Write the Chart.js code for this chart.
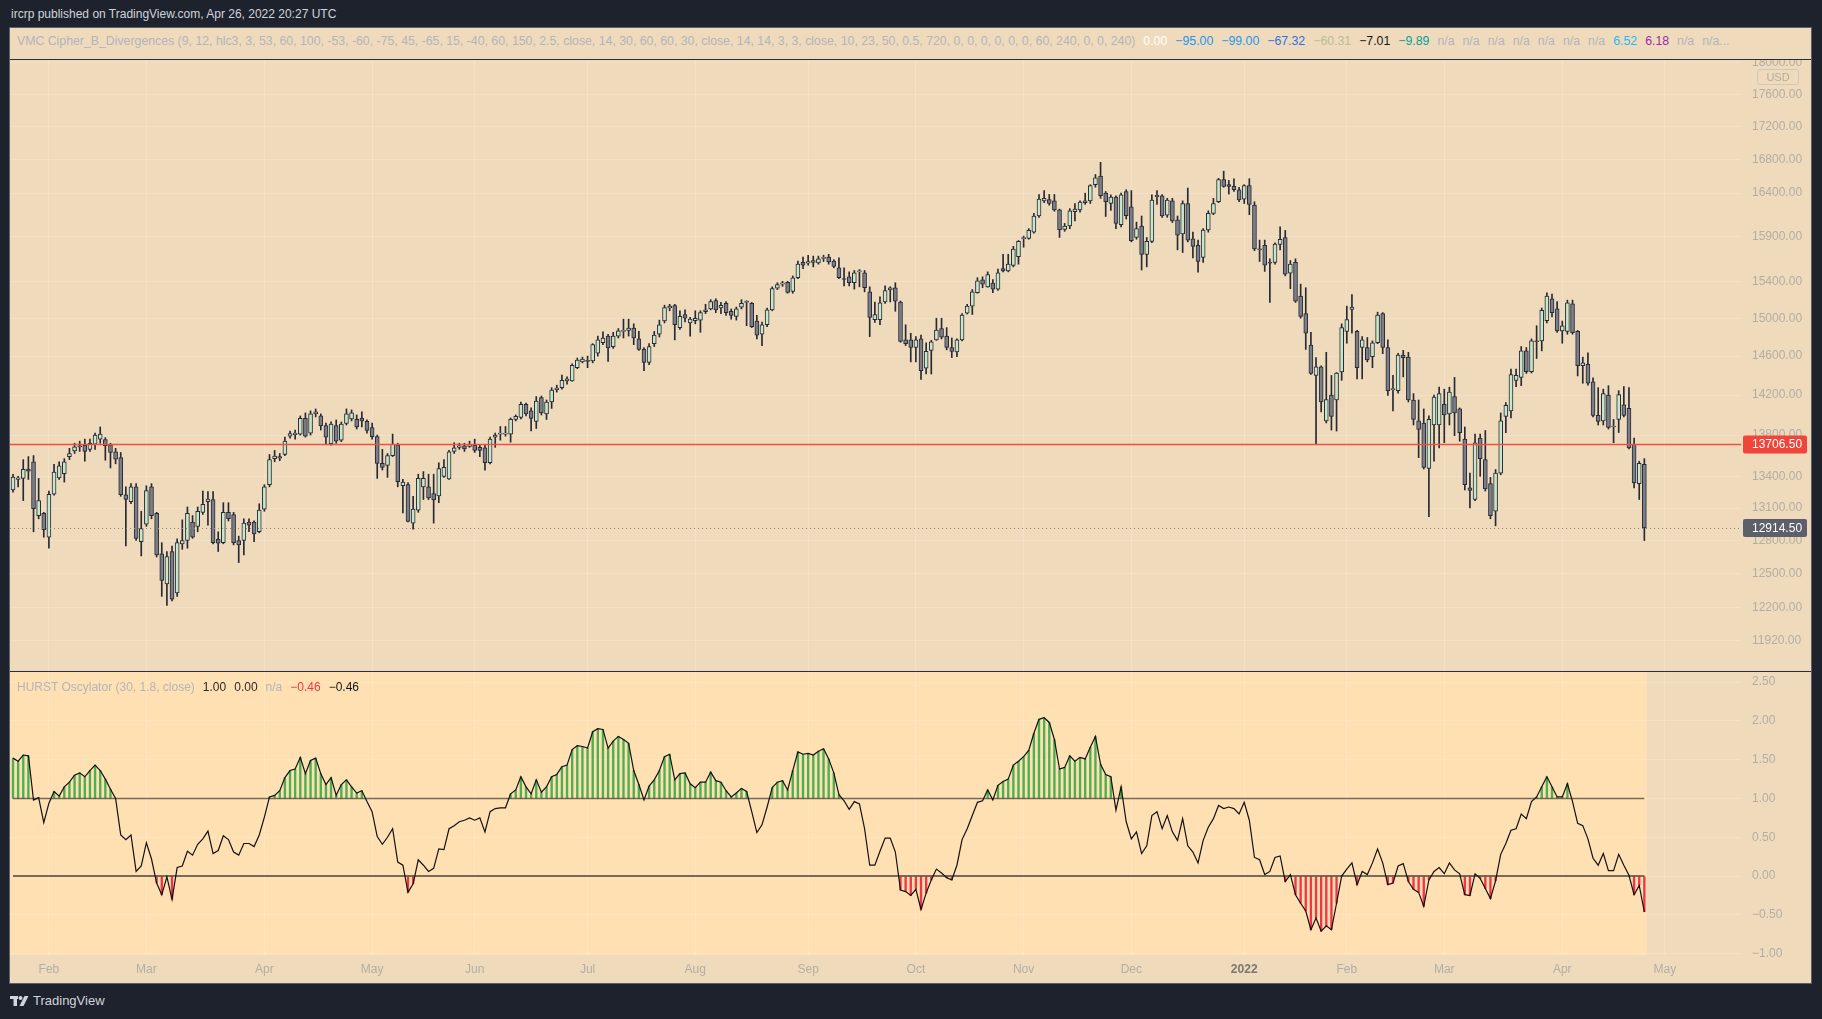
<!DOCTYPE html>
<html>
<head>
<meta charset="utf-8">
<title>NQ1! daily - HURST Oscylator</title>
<script src="https://cdn.jsdelivr.net/npm/chart.js@4.4.1/dist/chart.umd.min.js"></script>
<style>
  body { margin: 0; width: 1822px; height: 1019px; background: #1e222d; overflow: hidden; position: relative;
         font-family: "Liberation Sans", Arial, sans-serif; }
  .abs { position: absolute; }
  #title { left: 11px; top: 7px; color: #d1d4dc; font-size: 12px; white-space: nowrap; }
  #frame { left: 9px; top: 27px; width: 1803px; height: 957px; box-sizing: border-box; border: 1px solid #5d606b; background: #efdabb; }
  #sep1 { left: 10px; top: 59px; width: 1801px; height: 1px; background: #2a2e39; }
  #sep2 { left: 10px; top: 671px; width: 1801px; height: 1px; background: #2a2e39; }
  .legend { line-height: 16px; white-space: nowrap; color: #b2b5be; overflow: hidden; }
  .legend span { margin-left: 8px; }
  #legend1 { left: 17px; top: 33px; width: 1712px; font-size: 12.3px; }
  #legend2 { left: 17px; top: 679px; font-size: 12px; }
  #usd { left: 1757px; top: 69px; width: 40px; height: 14px; border: 1px solid #cfc8bc; border-radius: 3px;
         font-size: 11px; color: #b2ada4; text-align: center; line-height: 14px; }
  #brand { left: 10px; top: 993px; color: #d1d4dc; font-size: 13px; display: flex; align-items: center; gap: 4px; }
  canvas { position: absolute; }
</style>
</head>
<body>
<div id="title" class="abs">ircrp published on TradingView.com, Apr 26, 2022 20:27 UTC</div>
<div id="frame" class="abs"></div>
<div id="legend1" class="abs legend">VMC Cipher_B_Divergences (9, 12, hlc3, 3, 53, 60, 100, -53, -60, -75, 45, -65, 15, -40, 60, 150, 2.5, close, 14, 30, 60, 60, 30, close, 14, 14, 3, 3, close, 10, 23, 50, 0.5, 720, 0, 0, 0, 0, 0, 0, 60, 240, 0, 0, 240)<span style="color:#ffffff">0.00</span><span style="color:#2196f3">−95.00</span><span style="color:#2196f3">−99.00</span><span style="color:#2f6fe9">−67.32</span><span style="color:#b6bf9c">−60.31</span><span style="color:#131722">−7.01</span><span style="color:#00a0a0">−9.89</span><span>n/a</span><span>n/a</span><span>n/a</span><span>n/a</span><span>n/a</span><span>n/a</span><span>n/a</span><span style="color:#29b6f6">6.52</span><span style="color:#9c27b0">6.18</span><span>n/a</span><span>n/a...</span></div>
<canvas id="price" width="1801" height="611" style="left:10px;top:60px;width:1801px;height:611px"></canvas>
<div id="sep1" class="abs"></div>
<div id="usd" class="abs">USD</div>
<canvas id="osc" width="1801" height="311" style="left:10px;top:672px;width:1801px;height:311px"></canvas>
<div id="sep2" class="abs"></div>
<div id="legend2" class="abs legend">HURST Oscylator (30, 1.8, close)<span style="color:#2a2a2a">1.00</span><span style="color:#2a2a2a">0.00</span><span>n/a</span><span style="color:#f23645">−0.46</span><span style="color:#131722">−0.46</span></div>
<div id="brand" class="abs">
  <svg width="19" height="12" viewBox="0 0 19 12"><rect x="0" y="1" width="8" height="3" fill="#d1d4dc"/><rect x="3.5" y="1" width="3.5" height="10" fill="#d1d4dc"/><circle cx="10.5" cy="3" r="2" fill="#d1d4dc"/><polygon points="14.5,1 18.5,1 13.5,11 9.5,11" fill="#d1d4dc"/></svg>
  <span>TradingView</span>
</div>

<script>
// trading days shown (NQ1!, daily)
const dates = [
  '2021-01-21','2021-01-22','2021-01-25','2021-01-26','2021-01-27','2021-01-28','2021-01-29',
  '2021-02-01','2021-02-02','2021-02-03','2021-02-04','2021-02-05','2021-02-08','2021-02-09','2021-02-10','2021-02-11','2021-02-12',
  '2021-02-16','2021-02-17','2021-02-18','2021-02-19','2021-02-22','2021-02-23','2021-02-24','2021-02-25','2021-02-26',
  '2021-03-01','2021-03-02','2021-03-03','2021-03-04','2021-03-05','2021-03-08','2021-03-09','2021-03-10','2021-03-11','2021-03-12',
  '2021-03-15','2021-03-16','2021-03-17','2021-03-18','2021-03-19','2021-03-22','2021-03-23','2021-03-24','2021-03-25','2021-03-26',
  '2021-03-29','2021-03-30','2021-03-31',
  '2021-04-01','2021-04-05','2021-04-06','2021-04-07','2021-04-08','2021-04-09','2021-04-12','2021-04-13','2021-04-14','2021-04-15',
  '2021-04-16','2021-04-19','2021-04-20','2021-04-21','2021-04-22','2021-04-23','2021-04-26','2021-04-27','2021-04-28','2021-04-29','2021-04-30',
  '2021-05-03','2021-05-04','2021-05-05','2021-05-06','2021-05-07','2021-05-10','2021-05-11','2021-05-12','2021-05-13','2021-05-14',
  '2021-05-17','2021-05-18','2021-05-19','2021-05-20','2021-05-21','2021-05-24','2021-05-25','2021-05-26','2021-05-27','2021-05-28',
  '2021-06-01','2021-06-02','2021-06-03','2021-06-04','2021-06-07','2021-06-08','2021-06-09','2021-06-10','2021-06-11','2021-06-14',
  '2021-06-15','2021-06-16','2021-06-17','2021-06-18','2021-06-21','2021-06-22','2021-06-23','2021-06-24','2021-06-25','2021-06-28','2021-06-29','2021-06-30',
  '2021-07-01','2021-07-02','2021-07-06','2021-07-07','2021-07-08','2021-07-09','2021-07-12','2021-07-13','2021-07-14','2021-07-15',
  '2021-07-16','2021-07-19','2021-07-20','2021-07-21','2021-07-22','2021-07-23','2021-07-26','2021-07-27','2021-07-28','2021-07-29','2021-07-30',
  '2021-08-02','2021-08-03','2021-08-04','2021-08-05','2021-08-06','2021-08-09','2021-08-10','2021-08-11','2021-08-12','2021-08-13',
  '2021-08-16','2021-08-17','2021-08-18','2021-08-19','2021-08-20','2021-08-23','2021-08-24','2021-08-25','2021-08-26','2021-08-27','2021-08-30','2021-08-31',
  '2021-09-01','2021-09-02','2021-09-03','2021-09-07','2021-09-08','2021-09-09','2021-09-10','2021-09-13','2021-09-14','2021-09-15',
  '2021-09-16','2021-09-17','2021-09-20','2021-09-21','2021-09-22','2021-09-23','2021-09-24','2021-09-27','2021-09-28','2021-09-29','2021-09-30',
  '2021-10-01','2021-10-04','2021-10-05','2021-10-06','2021-10-07','2021-10-08','2021-10-11','2021-10-12','2021-10-13','2021-10-14',
  '2021-10-15','2021-10-18','2021-10-19','2021-10-20','2021-10-21','2021-10-22','2021-10-25','2021-10-26','2021-10-27','2021-10-28','2021-10-29',
  '2021-11-01','2021-11-02','2021-11-03','2021-11-04','2021-11-05','2021-11-08','2021-11-09','2021-11-10','2021-11-11','2021-11-12',
  '2021-11-15','2021-11-16','2021-11-17','2021-11-18','2021-11-19','2021-11-22','2021-11-23','2021-11-24','2021-11-26','2021-11-29','2021-11-30',
  '2021-12-01','2021-12-02','2021-12-03','2021-12-06','2021-12-07','2021-12-08','2021-12-09','2021-12-10','2021-12-13','2021-12-14',
  '2021-12-15','2021-12-16','2021-12-17','2021-12-20','2021-12-21','2021-12-22','2021-12-23','2021-12-27','2021-12-28','2021-12-29','2021-12-30','2021-12-31',
  '2022-01-03','2022-01-04','2022-01-05','2022-01-06','2022-01-07','2022-01-10','2022-01-11','2022-01-12','2022-01-13','2022-01-14',
  '2022-01-18','2022-01-19','2022-01-20','2022-01-21','2022-01-24','2022-01-25','2022-01-26','2022-01-27','2022-01-28','2022-01-31',
  '2022-02-01','2022-02-02','2022-02-03','2022-02-04','2022-02-07','2022-02-08','2022-02-09','2022-02-10','2022-02-11','2022-02-14',
  '2022-02-15','2022-02-16','2022-02-17','2022-02-18','2022-02-22','2022-02-23','2022-02-24','2022-02-25','2022-02-28',
  '2022-03-01','2022-03-02','2022-03-03','2022-03-04','2022-03-07','2022-03-08','2022-03-09','2022-03-10','2022-03-11','2022-03-14',
  '2022-03-15','2022-03-16','2022-03-17','2022-03-18','2022-03-21','2022-03-22','2022-03-23','2022-03-24','2022-03-25','2022-03-28',
  '2022-03-29','2022-03-30','2022-03-31',
  '2022-04-01','2022-04-04','2022-04-05','2022-04-06','2022-04-07','2022-04-08','2022-04-11','2022-04-12','2022-04-13','2022-04-14',
  '2022-04-18','2022-04-19','2022-04-20','2022-04-21','2022-04-22','2022-04-25','2022-04-26'
];
// empty sessions to the right of the last bar (only used to place the "May" label)
const futureDates = ['2022-04-27', '2022-04-28', '2022-04-29', '2022-05-02'];

const opens = [
  13270,13370,13380,13470,13540,13030,13050,12830,13230,13385,
  13425,13590,13645,13695,13700,13660,13710,13760,13755,13705,
  13635,13580,13225,13160,13300,12790,12950,13300,13050,12680,
  12410,12700,12330,12770,12800,12970,12930,13060,13160,13180,
  12810,12780,13060,13040,12800,12800,12970,12970,12880,13090,
  13320,13570,13590,13610,13790,13805,13810,13965,13820,14010,
  13990,13895,13715,13895,13750,13915,13960,13955,13965,13935,
  13875,13785,13525,13505,13600,13705,13310,13320,12960,13080,
  13300,13300,13235,13215,13400,13375,13640,13680,13695,13690,
  13700,13680,13675,13530,13780,13810,13810,13810,13955,13975,
  14105,14040,13935,14175,14010,14130,14255,14275,14345,14345,
  14480,14540,14555,14550,14630,14740,14810,14700,14810,14860,
  14870,14895,14780,14670,14535,14730,14830,14970,15110,15135,
  14900,15040,14950,14975,14980,15070,15100,15190,15110,15160,
  15075,15020,15120,15170,15160,14970,14830,14930,15090,15325,
  15370,15390,15290,15440,15610,15600,15610,15605,15655,15670,
  15625,15550,15430,15450,15385,15505,15495,15285,14985,14985,
  15175,15305,15330,15174,14770,14770,14690,14780,14475,14660,
  14770,14890,14810,14690,14645,14770,15055,15130,15275,15418,
  15340,15380,15315,15540,15515,15575,15675,15875,15880,15950,
  16135,16310,16325,16310,16205,15980,16020,16185,16205,16290,
  16310,16500,16600,16400,16280,16355,16035,16420,16240,15890,
  16020,15700,15845,16360,16370,16145,16310,16090,15930,16280,
  15875,15800,15665,15975,16165,16300,16560,16500,16480,16440,
  16330,16490,16260,15760,15800,15610,15610,15810,15890,15490,
  15610,15240,15050,14715,14400,14490,13940,14200,14150,14435,
  14860,15095,14860,14690,14690,14595,14740,15050,14690,14255,
  14245,14610,14590,14150,13940,13920,13475,13900,13900,14105,
  14010,14185,14060,13760,13290,13180,13770,13560,13330,13070,
  13430,13985,14040,14350,14380,14655,14440,14760,14760,14975,
  15210,15100,14865,14860,15155,14860,14500,14515,14335,13995,
  13940,14200,13880,13955,14100,14065,13710,13330,13515
];
const highs = [
  13420,13400,13560,13590,13600,13380,13060,13260,13515,13540,
  13570,13670,13720,13740,13760,13760,13820,13880,13775,13720,
  13670,13630,13300,13330,13330,13070,13310,13330,13060,12780,
  12700,12750,12815,12990,13110,13030,13110,13260,13255,13255,
  12880,13150,13150,13060,12840,13000,13000,12980,13140,13320,
  13610,13650,13620,13780,13840,13850,13990,14020,14040,14060,
  14010,13920,13930,13950,13930,14060,14050,14000,14030,13950,
  13920,13800,13660,13620,13810,13720,13370,13340,13210,13420,
  13445,13420,13420,13530,13560,13650,13725,13720,13720,13740,
  13760,13700,13700,13780,13820,13885,13885,13970,14000,14130,
  14120,14070,14185,14190,14150,14275,14300,14405,14385,14520,
  14580,14590,14600,14730,14810,14855,14830,14850,14890,14990,
  14990,14940,14860,14690,14730,14860,14980,15140,15150,15150,
  15080,15090,15010,15080,15080,15150,15200,15210,15170,15180,
  15100,15120,15200,15190,15170,15030,14960,15110,15340,15385,
  15400,15400,15460,15625,15670,15690,15680,15680,15690,15700,
  15640,15660,15550,15505,15520,15530,15520,15340,15175,15230,
  15350,15340,15385,15185,14930,14840,14805,14820,14740,14765,
  15000,15000,14900,14790,14780,15050,15150,15310,15440,15450,
  15505,15420,15535,15700,15700,15790,15855,15905,15990,16165,
  16385,16430,16385,16385,16215,16050,16220,16280,16310,16400,
  16500,16620,16765,16420,16380,16370,16400,16440,16430,16065,
  16135,15890,16380,16430,16385,16340,16340,16135,16310,16460,
  15950,15860,15990,16195,16340,16575,16660,16550,16570,16470,
  16500,16570,16300,15860,15860,15650,15830,16010,15970,15630,
  15650,15370,15330,14850,14585,14500,14640,14400,14430,14940,
  15130,15255,14870,14805,14795,14760,15065,15060,14770,14400,
  14630,14660,14640,14215,14150,14060,13990,14200,14280,14260,
  14280,14380,14070,13880,13430,13810,13810,13845,13390,13465,
  14020,14125,14465,14465,14700,14690,14780,14920,15110,15275,
  15260,15180,14970,15195,15195,14870,14590,14635,14375,14275,
  14260,14295,13955,14245,14285,14275,13770,13545,13570
];
const lows = [
  13250,13300,13170,13370,12880,13000,12830,12730,13220,13370,
  13345,13560,13620,13640,13545,13640,13660,13720,13555,13480,
  13520,13210,12750,13140,12800,12660,12930,13000,12650,12300,
  12220,12260,12300,12720,12730,12820,12880,13040,12940,12770,
  12700,12770,12980,12760,12600,12670,12880,12790,12870,13070,
  13300,13540,13550,13600,13770,13760,13800,13780,13800,13980,
  13850,13715,13700,13720,13735,13900,13940,13860,13880,13820,
  13760,13380,13460,13390,13590,13300,13055,12970,12905,13060,
  13180,13180,12960,13150,13390,13370,13620,13660,13640,13680,
  13630,13590,13460,13520,13680,13750,13790,13730,13940,13960,
  13990,13840,13865,14000,13955,14065,14230,14260,14310,14340,
  14470,14530,14480,14530,14600,14720,14545,14680,14790,14790,
  14810,14720,14660,14450,14510,14700,14800,14950,15080,14770,
  14880,14960,14810,14940,14850,15050,15090,15060,15050,15030,
  14990,14980,15100,14920,14900,14780,14710,14910,15080,15310,
  15345,15270,15270,15430,15540,15580,15560,15590,15620,15590,
  15550,15430,15350,15350,15315,15340,15285,14805,14955,14930,
  15160,15175,15075,14745,14710,14540,14540,14360,14415,14415,
  14765,14780,14665,14585,14595,14760,15045,15040,15270,15330,
  15335,15275,15300,15505,15505,15560,15590,15780,15870,15940,
  16120,16290,16260,16190,15890,15960,15990,16080,16180,16270,
  16280,16470,16340,16130,16200,15990,16010,16100,15840,15870,
  15525,15560,15830,16270,16120,16120,16060,15750,15720,15840,
  15660,15500,15610,15950,16150,16290,16470,16390,16420,16300,
  16280,16150,15740,15620,15510,15170,15590,15750,15460,15320,
  15170,15000,14670,14410,13706.5,14030,13920,13850,13840,14350,
  14735,14840,14365,14365,14540,14480,14730,14625,14195,14040,
  14220,14385,14130,13900,13580,13470,13020,13545,13675,13725,
  13900,13795,13740,13270,13100,13170,13400,13260,13000,12935,
  13415,13825,13970,14285,14295,14420,14425,14575,14655,14950,
  15015,14850,14735,14830,14830,14395,14320,14300,13980,13900,
  13900,13860,13725,13825,13980,13665,13290,13180,12800
];
const closes = [
  13393,13385,13466,13450,13095,13170,12900,13230,13440,13500,
  13540,13620,13685,13685,13640,13720,13800,13810,13695,13630,
  13565,13225,13180,13300,12820,12910,13265,13030,12670,12440,
  12655,12275,12780,12800,13050,12830,13070,13135,13185,12780,
  12775,13060,13000,12780,12760,12960,12940,12860,13080,13300,
  13560,13595,13575,13740,13815,13820,13965,13790,14010,14030,
  13890,13780,13910,13740,13910,14010,14020,13880,13940,13845,
  13785,13525,13485,13600,13710,13350,13345,12975,13090,13380,
  13380,13195,13175,13475,13485,13635,13675,13695,13665,13710,
  13650,13650,13530,13760,13800,13820,13812,13955,13985,14105,
  14010,13965,14140,14020,14130,14250,14270,14350,14365,14505,
  14560,14570,14545,14720,14770,14790,14685,14810,14865,14870,
  14895,14790,14670,14535,14700,14820,14930,15115,15130,14930,
  15020,15000,14990,15000,15060,15090,15180,15090,15140,15060,
  15030,15100,15160,15175,14910,14820,14930,15090,15320,15365,
  15385,15280,15440,15590,15580,15620,15630,15650,15660,15615,
  15565,15440,15420,15385,15495,15515,15330,15010,15040,15165,
  15300,15330,15185,14755,14730,14690,14770,14450,14650,14750,
  14875,14800,14690,14650,14770,15035,15130,15285,15405,15370,
  15475,15315,15495,15515,15590,15760,15845,15890,15970,16135,
  16330,16340,16280,16205,15975,16020,16195,16215,16295,16310,
  16490,16580,16370,16300,16355,16050,16380,16140,15855,15990,
  15700,15845,16320,16375,16135,16320,16080,15915,16280,15860,
  15790,15620,15975,16165,16280,16560,16480,16480,16440,16320,
  16490,16270,15760,15750,15580,15600,15815,15870,15480,15590,
  15185,15020,14840,14420,14490,14130,14155,13985,14425,14900,
  14985,15120,14480,14770,14560,14740,15035,14690,14245,14265,
  14610,14585,14150,13955,13855,13485,13955,14180,14215,14000,
  14230,14020,13825,13320,13265,13725,13570,13280,13030,13430,
  13940,14095,14410,14400,14655,14440,14760,14750,15085,15240,
  15060,14865,14920,15165,14845,14500,14530,14320,13995,13935,
  14215,13875,13890,14205,13995,13675,13340,13525,12914.5
];
// HURST Oscylator (30, 1.8, close)
const osc = [
  1.52,1.48,1.56,1.55,0.98,1.01,0.69,0.94,1.09,1.03,
  1.15,1.21,1.30,1.33,1.28,1.36,1.43,1.36,1.25,1.12,
  1.00,0.53,0.47,0.53,0.06,0.13,0.43,0.22,-0.09,-0.24,
  -0.01,-0.30,0.11,0.13,0.32,0.27,0.41,0.48,0.58,0.29,
  0.33,0.52,0.47,0.31,0.27,0.42,0.42,0.38,0.53,0.76,
  1.02,1.04,1.10,1.27,1.36,1.38,1.53,1.32,1.49,1.52,
  1.32,1.18,1.27,1.04,1.18,1.24,1.15,1.07,1.10,0.96,
  0.83,0.51,0.41,0.50,0.61,0.18,0.14,-0.21,-0.10,0.21,
  0.14,0.06,0.10,0.35,0.34,0.61,0.65,0.70,0.72,0.75,
  0.72,0.75,0.57,0.83,0.87,0.88,0.88,1.06,1.11,1.28,
  1.15,1.06,1.24,1.08,1.15,1.28,1.31,1.41,1.43,1.63,
  1.68,1.67,1.65,1.86,1.90,1.89,1.65,1.74,1.80,1.76,
  1.71,1.36,1.18,0.98,1.16,1.24,1.36,1.54,1.57,1.24,
  1.32,1.33,1.19,1.14,1.21,1.21,1.34,1.23,1.21,1.10,
  1.02,1.07,1.13,1.09,0.83,0.56,0.66,0.89,1.14,1.21,
  1.23,1.11,1.36,1.60,1.57,1.58,1.56,1.61,1.64,1.51,
  1.33,1.05,0.97,0.86,0.96,0.93,0.61,0.14,0.14,0.32,
  0.49,0.49,0.31,-0.18,-0.20,-0.25,-0.17,-0.43,-0.22,-0.05,
  0.09,0.04,-0.02,-0.05,0.14,0.47,0.61,0.78,0.95,0.97,
  1.11,0.98,1.17,1.22,1.25,1.43,1.48,1.54,1.62,1.84,
  2.02,2.04,1.98,1.76,1.38,1.40,1.55,1.48,1.53,1.51,
  1.66,1.80,1.44,1.31,1.28,0.85,1.15,0.70,0.48,0.57,
  0.29,0.39,0.78,0.83,0.61,0.78,0.57,0.46,0.74,0.39,
  0.31,0.17,0.46,0.63,0.74,0.91,0.87,0.89,0.87,0.80,
  0.95,0.72,0.24,0.21,0.02,0.06,0.24,0.26,-0.07,0.02,
  -0.24,-0.35,-0.45,-0.69,-0.54,-0.71,-0.64,-0.69,-0.35,0.00,
  0.09,0.17,-0.11,0.06,0.02,0.17,0.35,0.17,-0.11,-0.09,
  0.13,0.16,-0.07,-0.17,-0.21,-0.39,-0.05,0.06,0.11,0.03,
  0.17,0.08,0.03,-0.24,-0.25,0.03,-0.03,-0.16,-0.29,-0.06,
  0.28,0.42,0.59,0.61,0.80,0.74,0.96,1.02,1.15,1.28,
  1.15,1.02,1.02,1.19,0.96,0.68,0.65,0.48,0.23,0.14,
  0.29,0.07,0.07,0.28,0.14,0.01,-0.24,-0.12,-0.46
];

const alertLevel = 13706.5;          // red horizontal line
const upperLevel = 1;                // oscillator levels
const lowerLevel = 0;

const priceTicks = [11920, 12200, 12500, 12800, 13100, 13400, 13800, 14200, 14600, 15000, 15400, 15900, 16400, 16800, 17200, 17600, 18000];
const oscTicks = [-1, -0.5, 0, 0.5, 1, 1.5, 2, 2.5];
const tickDates = ['2021-02-01','2021-03-01','2021-04-01','2021-05-03','2021-06-01','2021-07-01','2021-08-02','2021-09-01',
                   '2021-10-01','2021-11-01','2021-12-01','2022-01-03','2022-02-01','2022-03-01','2022-04-01','2022-05-02'];
const tickLabels = ['Feb','Mar','Apr','May','Jun','Jul','Aug','Sep','Oct','Nov','Dec','2022','Feb','Mar','Apr','May'];

// visible ranges of the panes
const X_MIN = -0.585, X_MAX = 336.84;
const PRICE_MIN = 11662, PRICE_MAX = 18035;
const OSC_MIN = -1.017, OSC_MAX = 2.63;

const FONT = '"Liberation Sans", Arial, sans-serif';
const AXIS_TXT = '#b3aea5';
const YEAR_TXT = '#7a7770';
const GRID = 'rgba(255,255,255,0.2)';
const WICK = '#252a35';
const UP = '#c8e6c9';
const DOWN = '#7b7e88';
const AXIS_W = 70;

Chart.defaults.font.family = FONT;
Chart.defaults.font.size = 12;

const allDates = dates.concat(futureDates);
const tickIndex = tickDates.map(d => allDates.indexOf(d));

function timeScale(showLabels) {
  return {
    type: 'linear', min: X_MIN, max: X_MAX, offset: false,
    afterBuildTicks: s => { s.ticks = tickIndex.map(v => ({ value: v })); },
    afterFit: s => { s.height = showLabels ? 28 : 0; s.paddingLeft = 0; s.paddingRight = 0; },
    ticks: {
      display: showLabels, autoSkip: false, maxRotation: 0, padding: 7,
      callback: v => tickLabels[tickIndex.indexOf(v)],
      color: c => (c.tick && c.tick.label === '2022') ? YEAR_TXT : AXIS_TXT,
      font: c => ({ size: 12, weight: (c.tick && c.tick.label === '2022') ? 'bold' : 'normal' })
    },
    grid: { color: GRID, drawTicks: false, offset: false },
    border: { display: false }
  };
}

function valueScale(type, min, max, ticks, fmt) {
  return {
    type: type, position: 'right', min: min, max: max,
    afterBuildTicks: s => { s.ticks = ticks.map(v => ({ value: v })); },
    afterFit: s => { s.width = AXIS_W; s.paddingTop = 0; s.paddingBottom = 0; },
    ticks: { autoSkip: false, padding: 11, color: AXIS_TXT, font: { size: 12 }, callback: fmt },
    grid: { color: GRID, drawTicks: false },
    border: { display: false }
  };
}

function tag(ctx, area, y, text, bg) {
  ctx.save();
  ctx.fillStyle = bg;
  ctx.beginPath();
  ctx.roundRect(area.right + 2, y - 9, 64, 18, 2);
  ctx.fill();
  ctx.fillStyle = '#ffffff';
  ctx.font = '12px ' + FONT;
  ctx.textBaseline = 'middle';
  ctx.textAlign = 'left';
  ctx.fillText(text, area.right + 11, y + 0.5);
  ctx.restore();
}

// red alert line, dotted last price line and their axis tags
const priceLines = {
  id: 'priceLines',
  afterDatasetsDraw(chart) {
    const { ctx, chartArea: a, scales: { y } } = chart;
    const last = closes[closes.length - 1];
    ctx.save();
    ctx.strokeStyle = '#8c8880';
    ctx.lineWidth = 1;
    ctx.setLineDash([1, 3]);
    ctx.beginPath();
    ctx.moveTo(a.left, Math.round(y.getPixelForValue(last)) + 0.5);
    ctx.lineTo(a.right, Math.round(y.getPixelForValue(last)) + 0.5);
    ctx.stroke();
    ctx.setLineDash([]);
    ctx.strokeStyle = '#f0503f';
    ctx.lineWidth = 1.5;
    ctx.beginPath();
    ctx.moveTo(a.left, y.getPixelForValue(alertLevel));
    ctx.lineTo(a.right, y.getPixelForValue(alertLevel));
    ctx.stroke();
    ctx.restore();
  },
  afterDraw(chart) {
    const { ctx, chartArea: a, scales: { y } } = chart;
    const last = closes[closes.length - 1];
    tag(ctx, a, y.getPixelForValue(alertLevel), alertLevel.toFixed(2), '#f0453a');
    tag(ctx, a, y.getPixelForValue(last), last.toFixed(2), '#5d606b');
  }
};

new Chart(document.getElementById('price'), {
  type: 'bar',
  data: {
    datasets: [
      {
        label: 'wicks',
        data: dates.map((d, i) => ({ x: i, y: [lows[i], highs[i]] })),
        backgroundColor: WICK, barThickness: 1, grouped: false, order: 2
      },
      {
        label: 'bodies',
        data: dates.map((d, i) => ({ x: i, y: [opens[i], closes[i]] })),
        backgroundColor: closes.map((c, i) => c >= opens[i] ? UP : DOWN),
        borderColor: WICK, borderWidth: 1, borderSkipped: false,
        barThickness: 4, minBarLength: 1, grouped: false, order: 1
      }
    ]
  },
  options: {
    responsive: false, animation: false, events: [],
    layout: { padding: 0 },
    plugins: { legend: { display: false }, tooltip: { enabled: false } },
    scales: {
      x: timeScale(false),
      y: valueScale('logarithmic', PRICE_MIN, PRICE_MAX, priceTicks, v => Number(v).toFixed(2))
    }
  },
  plugins: [priceLines]
});

// indicator background only where the indicator has bars
const oscBackground = {
  id: 'oscBackground',
  beforeDraw(chart) {
    const { ctx, chartArea: a, scales: { x } } = chart;
    ctx.save();
    ctx.fillStyle = '#ffe0b2';
    ctx.fillRect(a.left, a.top, x.getPixelForValue(osc.length - 0.5) - a.left, a.bottom - a.top);
    ctx.restore();
  }
};

const lastIdx = osc.length - 1;
new Chart(document.getElementById('osc'), {
  type: 'bar',
  data: {
    datasets: [
      {
        type: 'line', label: 'HURST',
        data: osc.map((v, i) => ({ x: i, y: v })),
        borderColor: '#111111', borderWidth: 1.2, pointRadius: 0, tension: 0, order: 0
      },
      {
        type: 'line', label: 'upper',
        data: [{ x: 0, y: upperLevel }, { x: lastIdx, y: upperLevel }],
        borderColor: 'rgba(95,85,72,0.85)', borderWidth: 1.3, pointRadius: 0, order: 1
      },
      {
        type: 'line', label: 'lower',
        data: [{ x: 0, y: lowerLevel }, { x: lastIdx, y: lowerLevel }],
        borderColor: 'rgba(95,85,72,0.85)', borderWidth: 2, pointRadius: 0, order: 1
      },
      {
        label: 'above',
        data: osc.map((v, i) => ({ x: i, y: v > upperLevel ? [upperLevel, v] : null })),
        backgroundColor: '#4caf50', barThickness: 1.7, grouped: false, order: 2
      },
      {
        label: 'below',
        data: osc.map((v, i) => ({ x: i, y: v < lowerLevel ? [v, lowerLevel] : null })),
        backgroundColor: '#f23645', barThickness: 1.7, grouped: false, order: 2
      }
    ]
  },
  options: {
    responsive: false, animation: false, events: [],
    layout: { padding: 0 },
    plugins: { legend: { display: false }, tooltip: { enabled: false } },
    scales: {
      x: timeScale(true),
      y: valueScale('linear', OSC_MIN, OSC_MAX, oscTicks, v => (v < 0 ? '\u2212' : '') + Math.abs(v).toFixed(2))
    }
  },
  plugins: [oscBackground]
});
</script>
</body>
</html>
